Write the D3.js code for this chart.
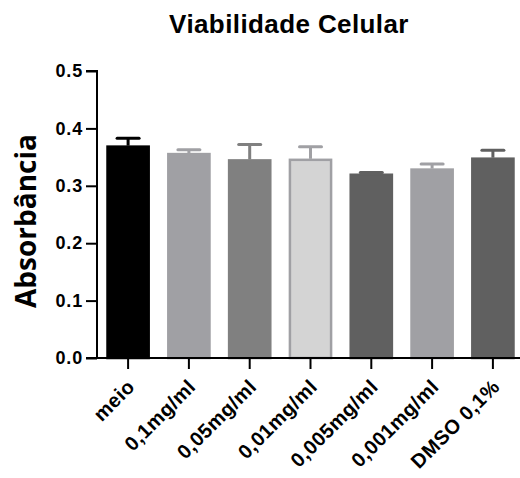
<!DOCTYPE html>
<html>
<head>
<meta charset="utf-8">
<script src="https://cdn.jsdelivr.net/npm/d3@7"></script>
<style>
  body { margin: 0; background: #fff; }
  text { font-family: Arial, "Liberation Sans", sans-serif; font-weight: bold; }
</style>
</head>
<body>
<div class="card"></div>
<script>
// data
var groups = ["meio", "0,1mg/ml", "0,05mg/ml", "0,01mg/ml", "0,005mg/ml", "0,001mg/ml", "DMSO 0,1%"];
var means = [0.370, 0.357, 0.346, 0.347, 0.321, 0.330, 0.349];
var errs = [0.013, 0.006, 0.026, 0.021, 0.002, 0.008, 0.013];
var yTicks = [0.0, 0.1, 0.2, 0.3, 0.4, 0.5];

var fills = ["#000000", "#a0a0a4", "#808080", "#d4d4d4", "#606060", "#a0a0a4", "#606060"];
var strokes = ["#000000", "#a0a0a4", "#808080", "#a0a0a4", "#606060", "#a0a0a4", "#606060"];

var width = 520, height = 478;

var svg = d3.select('.card')
  .append('svg')
  .attr('width', width)
  .attr('height', height)

var x = d3.scaleBand()
  .domain(groups)
  .range([98, 523])
  .paddingInner(0.29)
  .paddingOuter(0.14)

var y = d3.scaleLinear().domain([0, 0.5]).range([358, 71])

// title
svg.append('text')
  .attr('x', 289)
  .attr('y', 33)
  .attr('text-anchor', 'middle')
  .style('font-size', '26px')
  .style('letter-spacing', '0.4px')
  .text('Viabilidade Celular')

// y label
svg.append('text')
  .attr('transform', 'translate(36,221) rotate(-90)')
  .attr('text-anchor', 'middle')
  .style('font-family', '"Open Sans", sans-serif')
  .style('font-size', '28px')
  .text('Absorbância')

// bars
svg.selectAll('.bar')
  .data(groups)
  .enter()
  .append('rect')
  .attr('class', 'bar')
  .attr('x', d => x(d) + 1)
  .attr('y', (d, i) => y(means[i]) + 1)
  .attr('width', x.bandwidth() - 2)
  .attr('height', (d, i) => y(0) - y(means[i]) - 1)
  .style('fill', (d, i) => fills[i])
  .style('stroke', (d, i) => strokes[i])
  .style('stroke-width', 2.5)

// error bars (upper only)
var eb = svg.selectAll('.err')
  .data(groups)
  .enter()
  .append('g')
  .attr('class', 'err')
  .style('stroke', (d, i) => strokes[i])
  .style('stroke-width', 3)

eb.append('line')
  .attr('x1', d => x(d) + x.bandwidth() / 2)
  .attr('x2', d => x(d) + x.bandwidth() / 2)
  .attr('y1', (d, i) => y(means[i]))
  .attr('y2', (d, i) => y(means[i] + errs[i]))

eb.append('line')
  .attr('x1', d => x(d) + x.bandwidth() / 2 - 11)
  .attr('x2', d => x(d) + x.bandwidth() / 2 + 11)
  .attr('y1', (d, i) => y(means[i] + errs[i]))
  .attr('y2', (d, i) => y(means[i] + errs[i]))
  .style('stroke-linecap', 'round')

// y axis
var yAxis = d3.axisLeft(y).tickValues(yTicks).tickFormat(d3.format('.1f')).tickSize(11).tickPadding(3)
var gy = svg.append('g').attr('transform', 'translate(97,0)').call(yAxis)
gy.select('.domain').attr('d', 'M-11,' + y(0.5) + 'H0V' + y(0))
gy.selectAll('.domain, line').style('stroke', '#000').style('stroke-width', 2)
gy.selectAll('text').style('font-size', '18px').style('letter-spacing', '0.8px').style('fill', '#000')

// x axis
var xAxis = d3.axisBottom(x).tickSize(11).tickSizeOuter(0)
var gx = svg.append('g').attr('transform', 'translate(0,358)').call(xAxis)
gx.select('.domain').attr('d', 'M86,0H520')
gx.selectAll('.domain, line').style('stroke', '#000').style('stroke-width', 2)
gx.selectAll('text')
  .style('font-size', '20px')
  .style('letter-spacing', '0.5px')
  .style('fill', '#000')
  .attr('text-anchor', 'end')
  .attr('dy', null)
  .attr('y', 0)
  .attr('transform', 'translate(8,30) rotate(-45)')
</script>
</body>
</html>
